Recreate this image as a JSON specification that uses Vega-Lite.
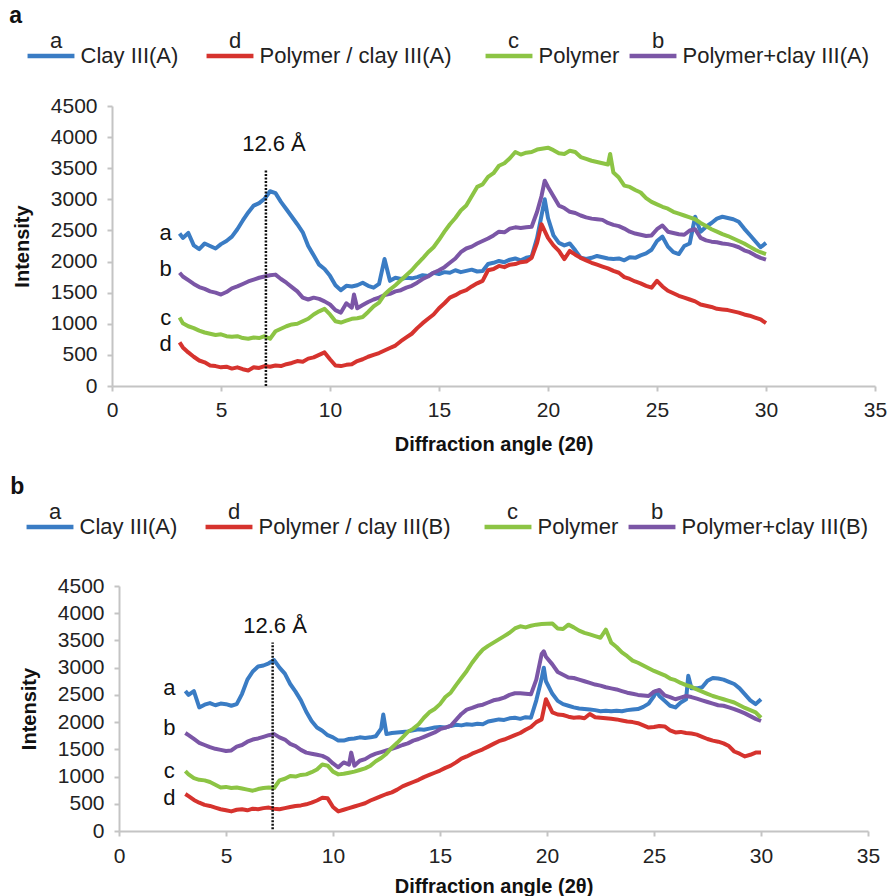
{
  "$schema": "https://vega.github.io/schema/vega-lite/v6.json",
  "padding": {"left": 9, "top": 5, "right": 5, "bottom": 2},
  "background": "white",
  "spacing": 200,
  "bounds": "flush",
  "center": true,
  "resolve": {"scale": {"color": "independent"}, "legend": {"color": "independent"}},
  "config": {
    "font": "Liberation Sans",
    "view": {"stroke": null},
    "axis": {"grid": false, "domainColor": "#c4c4c4", "domainWidth": 2, "tickColor": "#c4c4c4", "tickWidth": 2, "tickSize": 5, "labelFontSize": 21, "labelColor": "#222222", "titleFontSize": 20, "titleFontWeight": "bold", "titleColor": "#111111", "labelPadding": 8, "labelOverlap": false, "labelBound": false, "labelFlush": false},
    "axisY": {"titlePadding": 18, "labelPadding": 10, "format": "d", "tickCount": 10},
    "title": {"fontSize": 23, "fontWeight": "bold", "anchor": "start", "frame": "bounds", "color": "#111111"},
    "legend": {"orient": "none", "direction": "horizontal", "columns": 4, "title": null, "symbolType": "stroke", "symbolSize": 2200, "symbolStrokeWidth": 4.5, "labelFontSize": 22, "labelColor": "#222222", "labelOffset": -27, "labelLimit": 1000, "columnPadding": 0, "padding": 0, "labelBaseline": "middle"}
  },
  "datasets": {
    "A": [
      {"x":3.1,"a":2450,"b":1820,"c":1100,"d":700},
      {"x":3.25,"a":2380,"b":1760,"c":1010,"d":620},
      {"x":3.5,"a":2460,"b":1700,"c":960,"d":540},
      {"x":3.75,"a":2260,"b":1640,"c":930,"d":470},
      {"x":4.0,"a":2200,"b":1590,"c":890,"d":410},
      {"x":4.25,"a":2290,"b":1560,"c":860,"d":380},
      {"x":4.5,"a":2250,"b":1520,"c":840,"d":330},
      {"x":4.75,"a":2210,"b":1500,"c":820,"d":320},
      {"x":5.0,"a":2280,"b":1470,"c":830,"d":300},
      {"x":5.25,"a":2330,"b":1510,"c":800,"d":310},
      {"x":5.5,"a":2400,"b":1570,"c":790,"d":280},
      {"x":5.75,"a":2520,"b":1600,"c":800,"d":300},
      {"x":6.0,"a":2660,"b":1640,"c":770,"d":270},
      {"x":6.25,"a":2790,"b":1680,"c":760,"d":250},
      {"x":6.5,"a":2900,"b":1710,"c":780,"d":300},
      {"x":6.75,"a":2940,"b":1740,"c":770,"d":290},
      {"x":7.0,"a":3010,"b":1760,"c":800,"d":320},
      {"x":7.25,"a":3130,"b":1780,"c":760,"d":310},
      {"x":7.5,"a":3100,"b":1790,"c":880,"d":330},
      {"x":7.75,"a":2960,"b":1720,"c":920,"d":320},
      {"x":8.0,"a":2840,"b":1660,"c":960,"d":350},
      {"x":8.25,"a":2720,"b":1590,"c":990,"d":370},
      {"x":8.5,"a":2600,"b":1520,"c":1000,"d":400},
      {"x":8.75,"a":2470,"b":1420,"c":1040,"d":390},
      {"x":9.0,"a":2250,"b":1390,"c":1080,"d":440},
      {"x":9.25,"a":2100,"b":1420,"c":1150,"d":460},
      {"x":9.5,"a":1950,"b":1400,"c":1200,"d":500},
      {"x":9.75,"a":1880,"b":1360,"c":1240,"d":540},
      {"x":10.0,"a":1770,"b":1310,"c":1150,"d":430},
      {"x":10.25,"a":1620,"b":1220,"c":1040,"d":330},
      {"x":10.5,"a":1540,"b":1180,"c":1020,"d":320},
      {"x":10.75,"a":1610,"b":1330,"c":1050,"d":340},
      {"x":11.0,"a":1600,"b":1260,"c":1080,"d":350},
      {"x":11.1,"b":1470},
      {"x":11.25,"a":1620,"b":1250,"c":1090,"d":400},
      {"x":11.5,"a":1660,"b":1300,"c":1110,"d":430},
      {"x":11.75,"a":1610,"b":1350,"c":1190,"d":470},
      {"x":12.0,"a":1580,"b":1390,"c":1280,"d":500},
      {"x":12.25,"a":1640,"b":1420,"c":1340,"d":530},
      {"x":12.5,"a":2040,"b":1460,"c":1470,"d":570},
      {"x":12.75,"a":1690,"b":1480,"c":1550,"d":610},
      {"x":13.0,"a":1740,"b":1520,"c":1620,"d":650},
      {"x":13.25,"a":1720,"b":1540,"c":1700,"d":720},
      {"x":13.5,"a":1740,"b":1580,"c":1780,"d":780},
      {"x":13.75,"a":1730,"b":1610,"c":1860,"d":840},
      {"x":14.0,"a":1750,"b":1660,"c":1960,"d":930},
      {"x":14.25,"a":1780,"b":1720,"c":2050,"d":1010},
      {"x":14.5,"a":1770,"b":1760,"c":2150,"d":1080},
      {"x":14.75,"a":1820,"b":1820,"c":2230,"d":1150},
      {"x":15.0,"a":1800,"b":1860,"c":2350,"d":1250},
      {"x":15.25,"a":1830,"b":1910,"c":2480,"d":1330},
      {"x":15.5,"a":1820,"b":1980,"c":2600,"d":1420},
      {"x":15.75,"a":1860,"b":2050,"c":2700,"d":1460},
      {"x":16.0,"a":1830,"b":2150,"c":2820,"d":1510},
      {"x":16.25,"a":1850,"b":2210,"c":2900,"d":1540},
      {"x":16.5,"a":1870,"b":2240,"c":3050,"d":1600},
      {"x":16.75,"a":1840,"b":2290,"c":3200,"d":1650},
      {"x":17.0,"a":1850,"b":2330,"c":3240,"d":1690},
      {"x":17.25,"a":1960,"b":2370,"c":3360,"d":1860},
      {"x":17.5,"a":1980,"b":2420,"c":3420,"d":1880},
      {"x":17.75,"a":2010,"b":2480,"c":3540,"d":1930},
      {"x":18.0,"a":1990,"b":2470,"c":3580,"d":1910},
      {"x":18.25,"a":2030,"b":2530,"c":3660,"d":1950},
      {"x":18.5,"a":2050,"b":2550,"c":3760,"d":1960},
      {"x":18.75,"a":2020,"b":2540,"c":3720,"d":1990},
      {"x":19.0,"a":2060,"b":2550,"c":3750,"d":2000},
      {"x":19.25,"a":2080,"b":2560,"c":3760,"d":2060},
      {"x":19.5,"a":2380,"b":2800,"c":3800,"d":2300},
      {"x":19.7,"b":3050,"d":2600},
      {"x":19.85,"a":3000,"b":3300},
      {"x":20.0,"a":2700,"b":3200,"c":3830,"d":2380},
      {"x":20.25,"a":2420,"b":3050,"c":3790,"d":2260},
      {"x":20.5,"a":2300,"b":2900,"c":3740,"d":2170},
      {"x":20.75,"a":2260,"b":2860,"c":3730,"d":2040},
      {"x":21.0,"a":2290,"b":2800,"c":3780,"d":2170},
      {"x":21.25,"a":2180,"b":2780,"c":3760,"d":2110},
      {"x":21.5,"a":2060,"b":2740,"c":3680,"d":2060},
      {"x":21.75,"a":2040,"b":2710,"c":3650,"d":2020},
      {"x":22.0,"a":2060,"b":2690,"c":3620,"d":1980},
      {"x":22.25,"a":2090,"b":2680,"c":3600,"d":1950},
      {"x":22.5,"a":2070,"b":2670,"c":3580,"d":1920},
      {"x":22.75,"a":2050,"b":2620,"c":3560,"d":1890},
      {"x":22.85,"c":3730},
      {"x":23.0,"a":2040,"b":2590,"c":3430,"d":1850},
      {"x":23.25,"a":2050,"b":2570,"c":3350,"d":1820},
      {"x":23.5,"a":2020,"b":2530,"c":3220,"d":1750},
      {"x":23.75,"a":2070,"b":2480,"c":3200,"d":1720},
      {"x":24.0,"a":2060,"b":2450,"c":3150,"d":1680},
      {"x":24.25,"a":2100,"b":2430,"c":3110,"d":1650},
      {"x":24.5,"a":2130,"b":2410,"c":3020,"d":1610},
      {"x":24.75,"a":2190,"b":2420,"c":2960,"d":1580},
      {"x":25.0,"a":2330,"b":2520,"c":2920,"d":1690},
      {"x":25.25,"a":2400,"b":2580,"c":2880,"d":1600},
      {"x":25.5,"a":2240,"b":2480,"c":2850,"d":1530},
      {"x":25.75,"a":2150,"b":2460,"c":2800,"d":1490},
      {"x":26.0,"a":2120,"b":2440,"c":2770,"d":1450},
      {"x":26.25,"a":2250,"b":2430,"c":2740,"d":1420},
      {"x":26.5,"a":2290,"b":2500,"c":2710,"d":1390},
      {"x":26.75,"a":2720,"b":2520,"c":2680,"d":1360},
      {"x":27.0,"a":2480,"b":2380,"c":2620,"d":1310},
      {"x":27.25,"a":2560,"b":2340,"c":2570,"d":1290},
      {"x":27.5,"a":2620,"b":2320,"c":2520,"d":1270},
      {"x":27.75,"a":2690,"b":2310,"c":2480,"d":1240},
      {"x":28.0,"a":2720,"b":2290,"c":2440,"d":1230},
      {"x":28.25,"a":2700,"b":2280,"c":2410,"d":1220},
      {"x":28.5,"a":2680,"b":2260,"c":2370,"d":1200},
      {"x":28.75,"a":2640,"b":2230,"c":2330,"d":1180},
      {"x":29.0,"a":2530,"b":2180,"c":2290,"d":1150},
      {"x":29.25,"a":2430,"b":2150,"c":2240,"d":1130},
      {"x":29.5,"a":2330,"b":2100,"c":2190,"d":1100},
      {"x":29.75,"a":2230,"b":2060,"c":2150,"d":1070},
      {"x":30.0,"a":2300,"b":2030,"c":2120,"d":1010}
    ],
    "B": [
      {"x":3.1,"a":2570,"b":1800,"c":1100,"d":680},
      {"x":3.25,"a":2500,"b":1760,"c":1040,"d":640},
      {"x":3.5,"a":2570,"b":1690,"c":970,"d":570},
      {"x":3.75,"a":2270,"b":1620,"c":940,"d":520},
      {"x":4.0,"a":2320,"b":1580,"c":930,"d":480},
      {"x":4.25,"a":2350,"b":1540,"c":900,"d":460},
      {"x":4.5,"a":2310,"b":1510,"c":850,"d":430},
      {"x":4.75,"a":2340,"b":1490,"c":800,"d":400},
      {"x":5.0,"a":2330,"b":1470,"c":810,"d":380},
      {"x":5.25,"a":2300,"b":1480,"c":790,"d":360},
      {"x":5.5,"a":2330,"b":1550,"c":800,"d":390},
      {"x":5.75,"a":2520,"b":1580,"c":780,"d":400},
      {"x":6.0,"a":2780,"b":1640,"c":760,"d":380},
      {"x":6.25,"a":2930,"b":1680,"c":740,"d":410},
      {"x":6.5,"a":3020,"b":1700,"c":770,"d":400},
      {"x":6.75,"a":3040,"b":1730,"c":790,"d":420},
      {"x":7.0,"a":3080,"b":1760,"c":800,"d":430},
      {"x":7.25,"a":3140,"b":1780,"c":790,"d":410},
      {"x":7.5,"a":3000,"b":1720,"c":930,"d":400},
      {"x":7.75,"a":2890,"b":1680,"c":960,"d":420},
      {"x":8.0,"a":2700,"b":1600,"c":1010,"d":440},
      {"x":8.25,"a":2560,"b":1560,"c":1000,"d":460},
      {"x":8.5,"a":2400,"b":1490,"c":1030,"d":470},
      {"x":8.75,"a":2190,"b":1440,"c":1040,"d":490},
      {"x":9.0,"a":2020,"b":1420,"c":1080,"d":520},
      {"x":9.25,"a":1900,"b":1400,"c":1130,"d":560},
      {"x":9.5,"a":1840,"b":1380,"c":1220,"d":610},
      {"x":9.75,"a":1760,"b":1330,"c":1200,"d":600},
      {"x":10.0,"a":1720,"b":1240,"c":1090,"d":440},
      {"x":10.25,"a":1660,"b":1170,"c":1040,"d":360},
      {"x":10.5,"a":1660,"b":1260,"c":1050,"d":390},
      {"x":10.75,"a":1690,"b":1220,"c":1070,"d":420},
      {"x":10.85,"b":1440},
      {"x":11.0,"a":1700,"b":1200,"c":1090,"d":450},
      {"x":11.25,"a":1720,"b":1290,"c":1120,"d":480},
      {"x":11.5,"a":1710,"b":1320,"c":1150,"d":510},
      {"x":11.75,"a":1720,"b":1380,"c":1200,"d":560},
      {"x":12.0,"a":1740,"b":1420,"c":1280,"d":600},
      {"x":12.25,"a":1880,"b":1450,"c":1340,"d":640},
      {"x":12.35,"a":2140},
      {"x":12.5,"a":1780,"b":1480,"c":1420,"d":680},
      {"x":12.75,"a":1800,"b":1510,"c":1530,"d":710},
      {"x":13.0,"a":1810,"b":1540,"c":1620,"d":760},
      {"x":13.25,"a":1820,"b":1580,"c":1720,"d":820},
      {"x":13.5,"a":1830,"b":1610,"c":1820,"d":860},
      {"x":13.75,"a":1850,"b":1660,"c":1880,"d":900},
      {"x":14.0,"a":1870,"b":1690,"c":1960,"d":940},
      {"x":14.25,"a":1860,"b":1730,"c":2080,"d":990},
      {"x":14.5,"a":1880,"b":1770,"c":2180,"d":1030},
      {"x":14.75,"a":1900,"b":1810,"c":2240,"d":1070},
      {"x":15.0,"a":1910,"b":1870,"c":2330,"d":1110},
      {"x":15.25,"a":1900,"b":1900,"c":2460,"d":1160},
      {"x":15.5,"a":1930,"b":1930,"c":2540,"d":1200},
      {"x":15.75,"a":1950,"b":2040,"c":2680,"d":1260},
      {"x":16.0,"a":1940,"b":2150,"c":2810,"d":1330},
      {"x":16.25,"a":1960,"b":2230,"c":2940,"d":1370},
      {"x":16.5,"a":1950,"b":2260,"c":3090,"d":1420},
      {"x":16.75,"a":1970,"b":2300,"c":3220,"d":1460},
      {"x":17.0,"a":1960,"b":2320,"c":3330,"d":1500},
      {"x":17.25,"a":2010,"b":2360,"c":3400,"d":1550},
      {"x":17.5,"a":2030,"b":2400,"c":3460,"d":1600},
      {"x":17.75,"a":2050,"b":2420,"c":3520,"d":1650},
      {"x":18.0,"a":2040,"b":2450,"c":3580,"d":1680},
      {"x":18.25,"a":2070,"b":2500,"c":3640,"d":1720},
      {"x":18.5,"a":2080,"b":2530,"c":3720,"d":1760},
      {"x":18.75,"a":2060,"b":2530,"c":3760,"d":1800},
      {"x":19.0,"a":2090,"b":2520,"c":3740,"d":1860},
      {"x":19.25,"a":2080,"b":2510,"c":3770,"d":1910},
      {"x":19.5,"a":2400,"b":2780,"c":3790,"d":2000},
      {"x":19.75,"a":2800,"b":3250,"c":3800,"d":2050},
      {"x":19.85,"a":3000,"b":3300},
      {"x":19.95,"a":2750,"b":3200,"d":2420},
      {"x":20.25,"a":2520,"b":3060,"c":3810,"d":2180},
      {"x":20.5,"a":2390,"b":2920,"c":3720,"d":2140},
      {"x":20.75,"a":2330,"b":2870,"c":3710,"d":2130},
      {"x":21.0,"a":2300,"b":2820,"c":3790,"d":2100},
      {"x":21.25,"a":2270,"b":2810,"c":3740,"d":2080},
      {"x":21.5,"a":2250,"b":2780,"c":3680,"d":2090},
      {"x":21.75,"a":2240,"b":2750,"c":3640,"d":2070},
      {"x":22.0,"a":2230,"b":2720,"c":3610,"d":2150},
      {"x":22.25,"a":2220,"b":2690,"c":3580,"d":2090},
      {"x":22.5,"a":2200,"b":2670,"c":3550,"d":2080},
      {"x":22.75,"a":2210,"b":2640,"c":3700,"d":2070},
      {"x":23.0,"a":2200,"b":2620,"c":3460,"d":2060},
      {"x":23.25,"a":2210,"b":2600,"c":3380,"d":2050},
      {"x":23.5,"a":2200,"b":2570,"c":3280,"d":2030},
      {"x":23.75,"a":2220,"b":2540,"c":3210,"d":2010},
      {"x":24.0,"a":2230,"b":2520,"c":3130,"d":2000},
      {"x":24.25,"a":2240,"b":2500,"c":3090,"d":1980},
      {"x":24.5,"a":2280,"b":2490,"c":3040,"d":1940},
      {"x":24.75,"a":2340,"b":2480,"c":2990,"d":1900},
      {"x":25.0,"a":2480,"b":2560,"c":2940,"d":1910},
      {"x":25.1,"a":2570},
      {"x":25.25,"a":2480,"b":2590,"c":2900,"d":1930},
      {"x":25.5,"a":2390,"b":2490,"c":2860,"d":1920},
      {"x":25.75,"a":2300,"b":2460,"c":2800,"d":1850},
      {"x":26.0,"a":2270,"b":2420,"c":2770,"d":1810},
      {"x":26.25,"a":2360,"b":2450,"c":2720,"d":1820},
      {"x":26.5,"a":2420,"b":2480,"c":2680,"d":1800},
      {"x":26.6,"a":2850},
      {"x":26.75,"a":2620,"b":2460,"c":2650,"d":1790},
      {"x":27.0,"a":2620,"b":2430,"c":2600,"d":1770},
      {"x":27.25,"a":2640,"b":2400,"c":2560,"d":1730},
      {"x":27.5,"a":2760,"b":2370,"c":2520,"d":1690},
      {"x":27.75,"a":2810,"b":2340,"c":2480,"d":1660},
      {"x":28.0,"a":2800,"b":2310,"c":2450,"d":1640},
      {"x":28.25,"a":2780,"b":2300,"c":2420,"d":1610},
      {"x":28.5,"a":2740,"b":2270,"c":2390,"d":1560},
      {"x":28.75,"a":2700,"b":2240,"c":2360,"d":1460},
      {"x":29.0,"a":2620,"b":2200,"c":2310,"d":1420},
      {"x":29.25,"a":2510,"b":2160,"c":2260,"d":1370},
      {"x":29.5,"a":2400,"b":2110,"c":2220,"d":1400},
      {"x":29.75,"a":2330,"b":2060,"c":2180,"d":1440},
      {"x":30.0,"a":2420,"b":2020,"c":2080,"d":1440}
    ],
    "ruleA": [{"x": 7.06, "y0": 0, "y1": 3480}],
    "ruleB": [{"x": 7.18, "y0": 30, "y1": 3460}],
    "noteA": [{"t": "12.6 Å", "x": 7.43, "y": 3890}],
    "noteB": [{"t": "12.6 Å", "x": 7.29, "y": 3765}],
    "tagsA": [{"t": "a", "x": 2.46, "y": 2466}, {"t": "b", "x": 2.46, "y": 1887}, {"t": "c", "x": 2.46, "y": 1099}, {"t": "d", "x": 2.46, "y": 670}],
    "tagsB": [{"t": "a", "x": 2.35, "y": 2632}, {"t": "b", "x": 2.35, "y": 1898}, {"t": "c", "x": 2.35, "y": 1102}, {"t": "d", "x": 2.35, "y": 612}]
  },
  "vconcat": [
    {
      "title": {"text": "a", "dx": -3, "offset": 2},
      "width": 763,
      "height": 280,
      "layer": [
        {
          "data": {"name": "A"},
          "transform": [{"fold": ["a", "b", "c", "d"], "as": ["series", "intensity"]}, {"filter": "isValid(datum.intensity)"}],
          "mark": {"type": "line", "strokeWidth": 4, "strokeJoin": "round"},
          "encoding": {
            "x": {"field": "x", "type": "quantitative", "scale": {"domain": [0, 35], "nice": false}, "axis": {"values": [0, 5, 10, 15, 20, 25, 30, 35], "title": "Diffraction angle (2θ)", "titlePadding": 14}},
            "y": {"field": "intensity", "type": "quantitative", "scale": {"domain": [0, 4500], "nice": false}, "axis": {"values": [0, 500, 1000, 1500, 2000, 2500, 3000, 3500, 4000, 4500], "tickCount": 10, "title": "Intensity"}},
            "color": {
              "field": "series", "type": "nominal",
              "scale": {"domain": ["a", "d", "c", "b"], "range": ["#3a7cc4", "#d6332e", "#8cc444", "#7b56a6"]},
              "legend": {
                "legendX": -87, "legendY": -76,
                "labelExpr": "datum.label == 'a' ? ['a', '\u200b\u00a0\u00a0\u00a0\u00a0\u00a0Clay III(A)\u00a0\u00a0\u00a0\u200b'] : datum.label == 'd' ? ['d', '\u200b\u00a0\u00a0\u00a0\u00a0\u00a0Polymer / clay III(A)\u00a0\u00a0\u00a0\u00a0\u200b'] : datum.label == 'c' ? ['c', '\u200b\u00a0\u00a0\u00a0\u00a0\u00a0Polymer'] : ['b', '\u200b\u00a0\u00a0\u00a0\u00a0\u00a0Polymer+clay III(A)']",
                "encode": {"labels": {"update": {"lineHeight": {"value": 15}, "dy": {"value": -15}}}}
              }
            }
          }
        },
        {
          "data": {"name": "ruleA"},
          "mark": {"type": "rule", "strokeDash": [2, 1.5], "strokeWidth": 2.5, "color": "#111111"},
          "encoding": {
            "x": {"field": "x", "type": "quantitative", "title": "Diffraction angle (2θ)"},
            "y": {"field": "y0", "type": "quantitative", "title": "Intensity"},
            "y2": {"field": "y1"}
          }
        },
        {
          "data": {"name": "noteA"},
          "mark": {"type": "text", "fontSize": 22, "color": "#111111", "align": "center", "baseline": "middle"},
          "encoding": {
            "x": {"field": "x", "type": "quantitative", "title": "Diffraction angle (2θ)"},
            "y": {"field": "y", "type": "quantitative", "title": "Intensity"},
            "text": {"field": "t"}
          }
        },
        {
          "data": {"name": "tagsA"},
          "mark": {"type": "text", "fontSize": 22, "color": "#111111", "align": "center", "baseline": "middle"},
          "encoding": {
            "x": {"field": "x", "type": "quantitative", "title": "Diffraction angle (2θ)"},
            "y": {"field": "y", "type": "quantitative", "title": "Intensity"},
            "text": {"field": "t"}
          }
        }
      ]
    },
    {
      "title": {"text": "b", "dx": -9, "offset": 2},
      "width": 749,
      "height": 245,
      "layer": [
        {
          "data": {"name": "B"},
          "transform": [{"fold": ["a", "b", "c", "d"], "as": ["series", "intensity"]}, {"filter": "isValid(datum.intensity)"}],
          "mark": {"type": "line", "strokeWidth": 4, "strokeJoin": "round"},
          "encoding": {
            "x": {"field": "x", "type": "quantitative", "scale": {"domain": [0, 35], "nice": false}, "axis": {"values": [0, 5, 10, 15, 20, 25, 30, 35], "title": "Diffraction angle (2θ)", "titlePadding": 10, "labelPadding": 9}},
            "y": {"field": "intensity", "type": "quantitative", "scale": {"domain": [0, 4500], "nice": false}, "axis": {"values": [0, 500, 1000, 1500, 2000, 2500, 3000, 3500, 4000, 4500], "tickCount": 10, "title": "Intensity"}},
            "color": {
              "field": "series", "type": "nominal",
              "scale": {"domain": ["a", "d", "c", "b"], "range": ["#3a7cc4", "#d6332e", "#8cc444", "#7b56a6"]},
              "legend": {
                "legendX": -95, "legendY": -85,
                "labelExpr": "datum.label == 'a' ? ['a', '\u200b\u00a0\u00a0\u00a0\u00a0\u00a0Clay III(A)\u00a0\u00a0\u00a0\u200b'] : datum.label == 'd' ? ['d', '\u200b\u00a0\u00a0\u00a0\u00a0\u00a0Polymer / clay III(B)\u00a0\u00a0\u00a0\u00a0\u200b'] : datum.label == 'c' ? ['c', '\u200b\u00a0\u00a0\u00a0\u00a0\u00a0Polymer'] : ['b', '\u200b\u00a0\u00a0\u00a0\u00a0\u00a0Polymer+clay III(B)']",
                "encode": {"labels": {"update": {"lineHeight": {"value": 15}, "dy": {"value": -15}}}}
              }
            }
          }
        },
        {
          "data": {"name": "ruleB"},
          "mark": {"type": "rule", "strokeDash": [2, 1.5], "strokeWidth": 2.5, "color": "#111111"},
          "encoding": {
            "x": {"field": "x", "type": "quantitative", "title": "Diffraction angle (2θ)"},
            "y": {"field": "y0", "type": "quantitative", "title": "Intensity"},
            "y2": {"field": "y1"}
          }
        },
        {
          "data": {"name": "noteB"},
          "mark": {"type": "text", "fontSize": 22, "color": "#111111", "align": "center", "baseline": "middle"},
          "encoding": {
            "x": {"field": "x", "type": "quantitative", "title": "Diffraction angle (2θ)"},
            "y": {"field": "y", "type": "quantitative", "title": "Intensity"},
            "text": {"field": "t"}
          }
        },
        {
          "data": {"name": "tagsB"},
          "mark": {"type": "text", "fontSize": 22, "color": "#111111", "align": "center", "baseline": "middle"},
          "encoding": {
            "x": {"field": "x", "type": "quantitative", "title": "Diffraction angle (2θ)"},
            "y": {"field": "y", "type": "quantitative", "title": "Intensity"},
            "text": {"field": "t"}
          }
        }
      ]
    }
  ]
}
